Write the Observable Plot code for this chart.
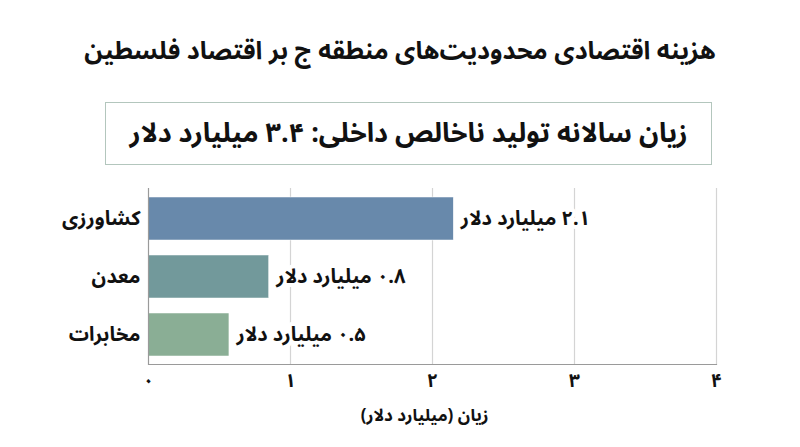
<!DOCTYPE html>
<html>
<head>
<meta charset="utf-8">
<script src="https://cdn.jsdelivr.net/npm/d3@7"></script>
<script src="https://cdn.jsdelivr.net/npm/@observablehq/plot@0.6"></script>
<style>
  html, body { margin: 0; padding: 0; background: #fff; }
  body { width: 800px; height: 447px; position: relative; overflow: hidden;
         font-family: "Noto Sans Arabic", "DejaVu Sans", sans-serif; color: #111; }
  #title { position: absolute; left: 0; top: 33px; width: 800px; text-align: center;
           font-size: 25px; font-weight: bold; direction: rtl; line-height: 36px; }
  #box { position: absolute; left: 105px; top: 102px; width: 605px; height: 61px;
         border: 1.5px solid #b3c6bd; display: flex; align-items: center; justify-content: center;
         font-size: 27px; font-weight: bold; direction: rtl; }
  #chart { position: absolute; left: 0; top: 175px; }
  #chart svg { overflow: visible; }
</style>
</head>
<body>
<div id="title"></div>
<div id="box"></div>
<div id="chart"></div>
<script>
const titleText = "هزینه اقتصادی محدودیت‌های منطقه ج بر اقتصاد فلسطین";
const boxText = "زیان سالانه تولید ناخالص داخلی: ۳.۴ میلیارد دلار";
const categories = ["کشاورزی", "معدن", "مخابرات"];
const values = [2.15, 0.85, 0.57];
const valueLabels = ["۲.۱ میلیارد دلار", "۰.۸ میلیارد دلار", "۰.۵ میلیارد دلار"];
const barColors = ["#6889ab", "#72999b", "#8aae95"];
const xTicks = [0, 1, 2, 3, 4];
const xTickLabels = ["۰", "۱", "۲", "۳", "۴"];
const xLabel = "زیان (میلیارد دلار)";

document.getElementById("title").textContent = titleText;
document.getElementById("box").textContent = boxText;

const rtl = s => "\u202B" + s + "\u202C";
const data = categories.map((c, i) => ({category: c, value: values[i], label: rtl(valueLabels[i])}));

const chart = Plot.plot({
  width: 800,
  height: 272,
  marginLeft: 148,
  marginRight: 84,
  marginTop: 13,
  marginBottom: 83,
  style: {fontFamily: "'Noto Sans Arabic', 'DejaVu Sans', sans-serif", color: "#111", background: "#fff"},
  x: {domain: [0, 4], ticks: xTicks},
  y: {domain: categories, paddingInner: 0.26, paddingOuter: 0.147},
  color: {domain: categories, range: barColors},
  marks: [
    Plot.gridX(xTicks.slice(1), {stroke: "#d4d4d4", strokeOpacity: 1, strokeWidth: 1.2}),
    Plot.barX(data, {x: "value", y: "category", fill: "category", stroke: "#ffffff", strokeWidth: 0.5}),
    Plot.text(data, {x: "value", y: "category", text: "label", textAnchor: "start", dx: 7,
      fontSize: 20, fontWeight: "bold", fill: "#111", stroke: "#fff", strokeWidth: 8}),
    Plot.ruleX([0], {stroke: "#9a9a9a", strokeWidth: 1.2}),
    Plot.frame({anchor: "bottom", stroke: "#9a9a9a", strokeWidth: 1.2}),
    Plot.axisY({tickSize: 0, tickPadding: 8, fontSize: 20, fontWeight: "bold", label: null}),
    Plot.axisX(xTicks, {tickSize: 0, tickPadding: 9, fontSize: 19, fontWeight: "bold",
      tickFormat: d => xTickLabels[xTicks.indexOf(d)], label: null}),
    Plot.text([xLabel], {text: d => rtl(d), frameAnchor: "bottom", dy: 56, dx: -8,
      fontSize: 17, fontWeight: "bold", fill: "#111"})
  ]
});
document.getElementById("chart").appendChild(chart);
</script>
</body>
</html>
